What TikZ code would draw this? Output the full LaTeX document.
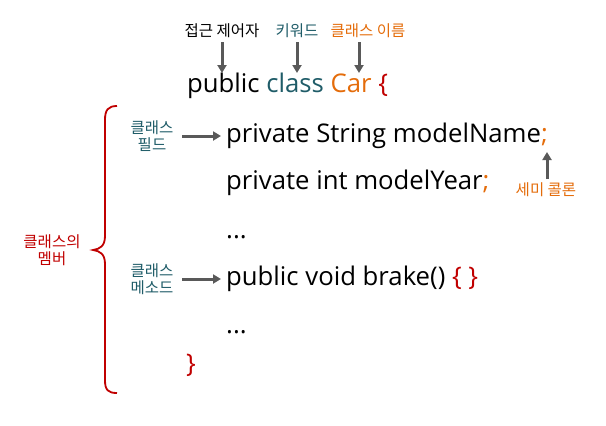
\documentclass[tikz,border=0pt]{standalone}
\usepackage{fontspec}
\setmainfont{Noto Sans CJK KR}
\newfontfamily\codefont{Open Sans}
\usetikzlibrary{arrows.meta}
\definecolor{teal1}{RGB}{31,92,104}
\definecolor{orng}{RGB}{228,108,10}
\definecolor{redd}{RGB}{192,0,0}
\definecolor{arrg}{RGB}{89,89,89}
\begin{document}
\begin{tikzpicture}[x=1pt,y=-1pt,
  code/.style={anchor=base west,inner sep=0pt,font=\codefont\fontsize{25.7}{30}\selectfont},
  lbl/.style={inner sep=0pt,font=\fontsize{15.5}{17}\selectfont,align=center},
  garrow/.style={draw=arrg,line width=3pt,-{Triangle[length=8pt,width=9pt]}}]
\useasboundingbox (0,0) rectangle (606,426);
% top labels
\node[lbl] (acc) at (222,31) {접근 제어자};
\node[lbl,text=teal1] (kw) at (297,31) {키워드};
\node[lbl,text=orng] (cn) at (368,31) {클래스 이름};
% code
\node[code] (l0) at (187,92) {public \textcolor{teal1}{class} \textcolor{orng}{Car} \textcolor{redd}{\{}};
\node[code] (l1) at (226,142) {private String modelName\textcolor{orng}{;}};
\node[code] (l2) at (226,189) {private int modelYear\textcolor{orng}{;}};
\node[code] (l3) at (226,238) {...};
\node[code] (l4) at (226,285) {public void brake() \textcolor{redd}{\{ \}}};
\node[code] (l5) at (226,333) {...};
\node[code,text=redd] (l6) at (186,372) {\}};
% arrow coordinates
\coordinate (a1s) at (222,42); \coordinate (a1e) at (222,73);
\coordinate (a2s) at (297,42); \coordinate (a2e) at (297,73);
\coordinate (a3s) at (359,42); \coordinate (a3e) at (359,73);
\draw[garrow] (a1s) -- (a1e);
\draw[garrow] (a2s) -- (a2e);
\draw[garrow] (a3s) -- (a3e);
% side labels
\node[lbl,text=teal1] (fld) at (152,136) {클래스\\필드};
\node[lbl,text=teal1] (mth) at (152,279) {클래스\\메소드};
\coordinate (f1) at (182,136); \coordinate (f2) at (221,136);
\coordinate (m1) at (182,279); \coordinate (m2) at (221,279);
\draw[garrow] (f1) -- (f2);
\draw[garrow] (m1) -- (m2);
% semicolon
\node[lbl,text=orng] (semi) at (546,190) {세미 콜론};
\coordinate (s1) at (547,179); \coordinate (s2) at (547,152);
\draw[garrow] (s1) -- (s2);
% member brace
\node[lbl,text=redd] (mem) at (52,250) {클래스의\\멤버};
\draw[redd,line width=1.8pt]
  (117,106) .. controls (108,106) and (105,110) .. (105,120)
  -- (105,236) .. controls (105,246) and (100,249) .. (93,250)
  .. controls (100,251) and (105,254) .. (105,264)
  -- (105,380) .. controls (105,390) and (108,393) .. (117,393);
\end{tikzpicture}
\end{document}
